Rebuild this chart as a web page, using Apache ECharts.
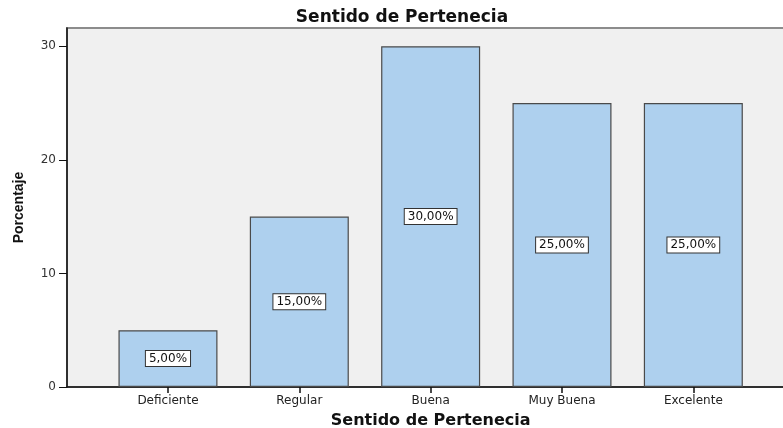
<!DOCTYPE html>
<html>
<head>
<meta charset="utf-8">
<script src="https://cdn.jsdelivr.net/npm/echarts@6/dist/echarts.min.js"></script>
<style>html,body{margin:0;padding:0;background:#fff}#c{width:783px;height:428px}</style>
</head>
<body>
<div id="c"></div>
<script>
const categories = ['Deficiente', 'Regular', 'Buena', 'Muy Buena', 'Excelente'];
const percentValues = [5, 15, 30, 25, 25];
const yTickValues = [0, 10, 20, 30];
const chartTitle = 'Sentido de Pertenecia';
const xAxisTitle = 'Sentido de Pertenecia';
const yAxisTitle = 'Porcentaje';

const FONT = 'DejaVu Sans';
const YMAX = 31.6;
const chart = echarts.init(document.getElementById('c'), null, {renderer: 'canvas'});
chart.setOption({
  animation: false,
  backgroundColor: '#ffffff',
  title: {
    text: chartTitle,
    left: 397, top: 4, textAlign: 'center',
    textStyle: {fontFamily: FONT, fontWeight: 'bold', fontSize: 17, color: '#111'}
  },
  grid: [
    {left: 67, right: -4, top: 28, bottom: 41, show: true, backgroundColor: '#f0f0f0',
     borderColor: '#8c8c8c', borderWidth: 2, containLabel: false, outerBoundsMode: 'none'},
    {left: 102.3, right: 24, top: 28, bottom: 41, containLabel: false, outerBoundsMode: 'none'}
  ],
  xAxis: [
    {type: 'value', gridIndex: 0, min: 0, max: 1,
     axisLine: {show: true, lineStyle: {color: '#111', width: 1.5}},
     axisTick: {show: false}, axisLabel: {show: false}, splitLine: {show: false}},
    {type: 'category', gridIndex: 1, data: categories,
     axisLine: {show: false},
     axisTick: {show: true, alignWithLabel: true, length: 6, lineStyle: {color: '#111', width: 1.5}},
     axisLabel: {margin: 8, fontFamily: FONT, fontSize: 12, color: '#222'},
     name: xAxisTitle, nameLocation: 'middle', nameGap: 26, nameMoveOverlap: false,
     nameTextStyle: {fontFamily: FONT, fontWeight: 'bold', fontSize: 16, color: '#111'}}
  ],
  yAxis: [
    {type: 'value', gridIndex: 0, min: 0, max: YMAX,
     axisLine: {show: true, lineStyle: {color: '#111', width: 1.5}},
     axisTick: {show: true, length: 8, customValues: yTickValues, lineStyle: {color: '#111', width: 1}},
     axisLabel: {customValues: yTickValues, margin: 11, fontFamily: FONT, fontSize: 12, color: '#333'},
     splitLine: {show: false},
     name: yAxisTitle, nameLocation: 'middle', nameGap: 41, nameRotate: 90, nameMoveOverlap: false,
     nameTextStyle: {fontFamily: 'Liberation Sans Narrow, Liberation Sans', fontWeight: 'bold', fontSize: 14, color: '#111'}},
    {type: 'value', gridIndex: 1, min: 0, max: YMAX, show: false}
  ],
  series: [{
    type: 'bar', xAxisIndex: 1, yAxisIndex: 1,
    data: percentValues,
    barWidth: 99,
    itemStyle: {color: '#aed0ee', borderColor: '#4a4a4a', borderWidth: 1.2},
    label: {
      show: true, position: 'inside',
      formatter: p => p.value.toFixed(2).replace('.', ',') + '%',
      fontFamily: FONT, fontSize: 12, color: '#111',
      backgroundColor: '#ffffff', borderColor: '#333', borderWidth: 1,
      padding: [2, 3, 1, 3]
    }
  }]
});
</script>
</body>
</html>
